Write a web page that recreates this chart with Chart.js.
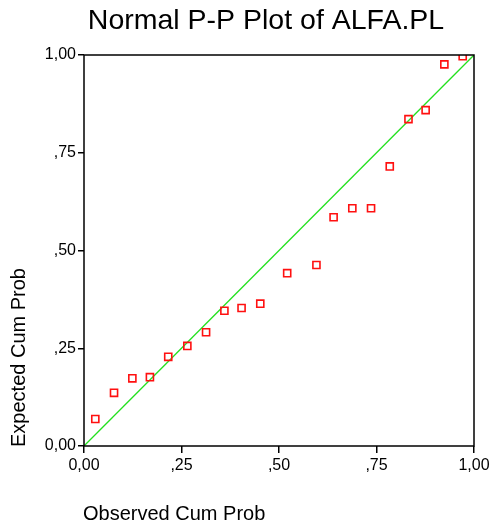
<!DOCTYPE html>
<html>
<head>
<meta charset="utf-8">
<script src="https://cdn.jsdelivr.net/npm/chart.js@4"></script>
<style>
  html, body { margin: 0; padding: 0; background: #fff; }
  #wrap { width: 490px; height: 523px; position: relative; }
</style>
</head>
<body>
<div id="wrap"><canvas id="ppChart" width="490" height="523"></canvas></div>
<script>
// observed vs expected cumulative probabilities
const observed = [0.029, 0.077, 0.124, 0.169, 0.216, 0.265, 0.313, 0.360, 0.404, 0.452,
                  0.521, 0.596, 0.640, 0.688, 0.736, 0.784, 0.832, 0.876, 0.924, 0.971];
const expected = [0.069, 0.136, 0.173, 0.176, 0.228, 0.256, 0.291, 0.346, 0.353, 0.364,
                  0.442, 0.463, 0.585, 0.608, 0.608, 0.715, 0.836, 0.859, 0.976, 0.997];
const refLine = [0, 1];
const tickValues = [0, 0.25, 0.5, 0.75, 1];
const tickLabels = ['0,00', ',25', ',50', ',75', '1,00'];

const titleText = 'Normal P-P Plot of ALFA.PL';
const xTitle = 'Observed Cum Prob';
const yTitle = 'Expected Cum Prob';

const FONT = 'Arial, "Liberation Sans", sans-serif';

// frame + titles drawn by hand, SPSS style
const framePlugin = {
    id: 'frame',
    afterDraw(chart) {
        const ctx = chart.ctx;
        const a = chart.chartArea;
        ctx.save();
        ctx.strokeStyle = '#000';
        ctx.lineWidth = 1.5;
        ctx.strokeRect(a.left, a.top, a.right - a.left, a.bottom - a.top);

        ctx.fillStyle = '#000';
        ctx.font = '28.5px ' + FONT;
        ctx.textAlign = 'center';
        ctx.textBaseline = 'alphabetic';
        ctx.fillText(titleText, 266, 29);

        ctx.font = '20px ' + FONT;
        ctx.textAlign = 'left';
        ctx.fillText(xTitle, 83, 520);

        ctx.translate(25, 447);
        ctx.rotate(-Math.PI / 2);
        ctx.fillText(yTitle, 0, 0);
        ctx.restore();
    }
};

const ctx = document.getElementById('ppChart').getContext('2d');
const pts = observed.map((x, i) => ({ x: x, y: expected[i] }));

const tickOpts = {
    color: '#000',
    font: { family: FONT, size: 16 },
    autoSkip: false,
    callback: function (v) {
        const i = tickValues.indexOf(Math.round(v * 100) / 100);
        return i >= 0 ? tickLabels[i] : '';
    }
};

new Chart(ctx, {
    type: 'scatter',
    data: {
        datasets: [
            {
                label: 'line',
                data: refLine.map(v => ({ x: v, y: v })),
                showLine: true,
                borderColor: '#22e01e',
                borderWidth: 1.3,
                pointRadius: 0,
                order: 2
            },
            {
                label: 'points',
                data: pts,
                pointStyle: 'rect',
                pointRadius: 5,
                pointBorderColor: '#ff1010',
                pointBackgroundColor: 'rgba(255,255,255,0)',
                pointBorderWidth: 1.6,
                order: 1
            }
        ]
    },
    plugins: [framePlugin],
    options: {
        responsive: false,
        animation: false,
        layout: { padding: { top: 55, right: 0, left: 0, bottom: 0 } },
        plugins: {
            legend: { display: false },
            tooltip: { enabled: false }
        },
        scales: {
            x: {
                type: 'linear',
                min: 0,
                max: 1,
                afterBuildTicks: s => { s.ticks = tickValues.map(v => ({ value: v })); },
                afterFit: s => { s.height = 77; s.paddingRight = 16; s.paddingLeft = 0; },
                grid: { drawOnChartArea: false, color: '#000', tickLength: 7, lineWidth: 1.5 },
                border: { display: false },
                ticks: Object.assign({ maxRotation: 0, padding: 3 }, tickOpts)
            },
            y: {
                type: 'linear',
                min: 0,
                max: 1,
                afterBuildTicks: s => { s.ticks = tickValues.map(v => ({ value: v })); },
                afterFit: s => { s.width = 84; },
                grid: { drawOnChartArea: false, color: '#000', tickLength: 6, lineWidth: 1.5 },
                border: { display: false },
                ticks: Object.assign({ padding: 2 }, tickOpts)
            }
        }
    }
});
</script>
</body>
</html>
